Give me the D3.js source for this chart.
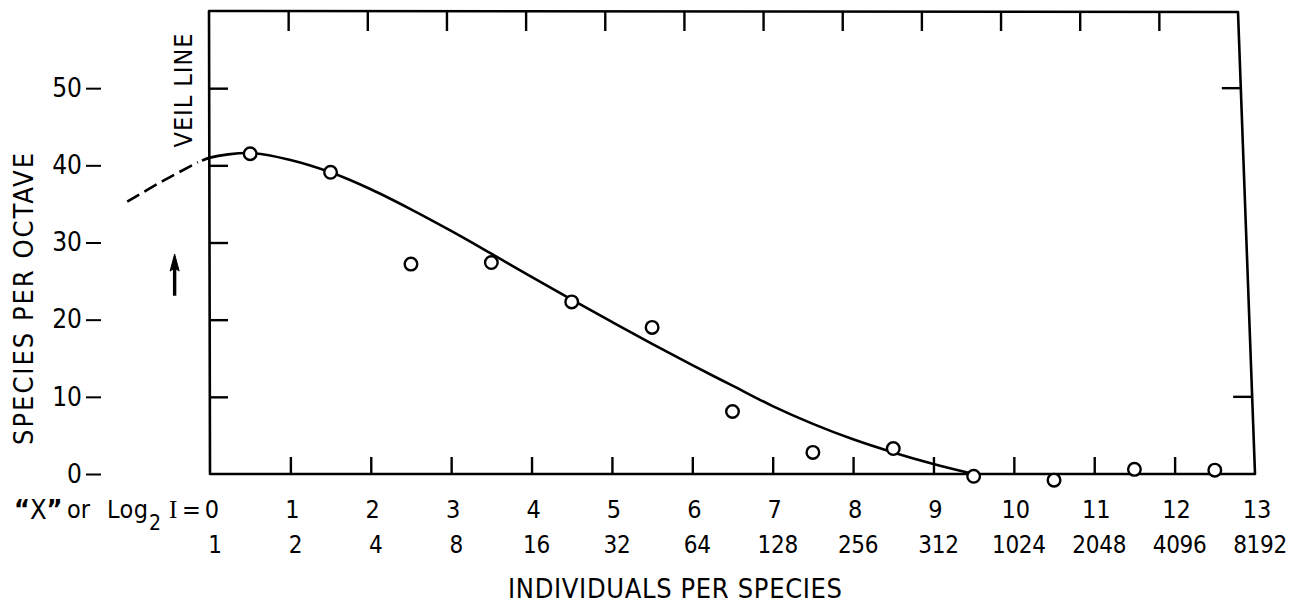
<!DOCTYPE html>
<html>
<head>
<meta charset="utf-8">
<script src="https://cdn.jsdelivr.net/npm/d3@7"></script>
<style>
  body { margin: 0; background: #fff; }
  svg text { font-family: "Liberation Sans Narrow", "DejaVu Sans Condensed", sans-serif; fill: #000; }
</style>
</head>
<body>
<div id="chart"></div>
<script>
// data
const octaves = [0.5, 1.5, 2.5, 3.5, 4.5, 5.5, 6.5, 7.5, 8.5, 9.5, 10.5, 11.5, 12.5];
const speciesObserved = [41.5, 39.1, 27.2, 27.4, 22.3, 19.0, 8.1, 2.8, 3.3, -0.3, -0.8, 0.6, 0.5];

const curveX = [-0.1, 0, 0.5, 1, 1.5, 2, 2.5, 3, 3.5, 4, 4.5, 5, 5.5, 6, 6.5, 7, 7.5, 8, 8.5, 9, 9.5];
const curveY = [40.6, 41.0, 41.6, 40.7, 39.1, 36.9, 34.3, 31.5, 28.55, 25.55, 22.6, 19.7, 16.85, 14.1, 11.45, 8.8, 6.5, 4.5, 2.8, 1.3, 0.0];

const veilX = [-1.03, -0.6, -0.15];
const veilY = [35.3, 37.9, 40.4];

const yTicks = [0, 10, 20, 30, 40, 50];
const xTicks = [1, 2, 3, 4, 5, 6, 7, 8, 9, 10, 11, 12];
const rightTicks = [10, 50];
const log2Labels = ["0", "1", "2", "3", "4", "5", "6", "7", "8", "9", "10", "11", "12", "13"];
const individualLabels = ["1", "2", "4", "8", "16", "32", "64", "128", "256", "312", "1024", "2048", "4096", "8192"];

const width = 1301;
const height = 606;

const svg = d3.select("#chart").append("svg")
  .attr("width", width)
  .attr("height", height);

// the scan is a bit skewed: the top edge is shorter than the bottom one
const x = d3.scaleLinear().domain([0, 13]).range([210, 1255]);
const xTop = d3.scaleLinear().domain([0, 13]).range([209, 1238]);
const y = d3.scaleLinear().domain([0, 60]).range([474, 11]);

// frame
const frame = d3.path();
frame.moveTo(x(0), y(0));
frame.lineTo(xTop(0), y(60));
frame.lineTo(xTop(13), y(60) + 1);
frame.lineTo(x(13), y(0));
frame.closePath();
svg.append("path")
  .attr("d", frame.toString())
  .attr("fill", "none")
  .attr("stroke", "#000")
  .attr("stroke-width", 2.6)
  .attr("stroke-linejoin", "round");

// inner ticks
function cleanAxis(g) {
  g.select(".domain").remove();
  g.selectAll(".tick line").attr("stroke", "#000").attr("stroke-width", 2.4);
  g.selectAll(".tick text").remove();
}

svg.append("g")
  .attr("transform", `translate(0,${y(0)})`)
  .call(d3.axisTop(x).tickValues(xTicks).tickSize(17))
  .call(cleanAxis);

svg.append("g")
  .attr("transform", `translate(0,${y(60)})`)
  .call(d3.axisBottom(xTop).tickValues(xTicks).tickSize(20))
  .call(cleanAxis);

svg.append("g")
  .attr("transform", `translate(${x(0)},0)`)
  .call(d3.axisRight(y).tickValues(yTicks.filter(d => d > 0)).tickSize(18))
  .call(cleanAxis);

// right edge ticks follow the slanted edge
const rightEdge = v => xTop(13) + (x(13) - xTop(13)) * (y(60) - y(v)) / (y(60) - y(0));
svg.append("g").selectAll("line")
  .data(rightTicks)
  .join("line")
  .attr("x1", d => rightEdge(d))
  .attr("x2", d => rightEdge(d) - 19)
  .attr("y1", d => y(d))
  .attr("y2", d => y(d))
  .attr("stroke", "#000")
  .attr("stroke-width", 2.4);

// left labels with their little dashes
const yAxis = svg.append("g")
  .attr("transform", "translate(101,0)")
  .call(d3.axisLeft(y).tickValues(yTicks).tickSize(15).tickPadding(4));
yAxis.select(".domain").remove();
yAxis.selectAll(".tick line").attr("stroke", "#000").attr("stroke-width", 2);
yAxis.selectAll(".tick text")
  .attr("font-size", 26)
  .attr("font-family", "Liberation Sans Narrow, DejaVu Sans Condensed, sans-serif");

// bottom label rows
svg.append("g").selectAll("text")
  .data(log2Labels)
  .join("text")
  .attr("x", (d, i) => x(i) + 2)
  .attr("y", 518)
  .attr("text-anchor", "middle")
  .attr("font-size", 25)
  .text(d => d);

svg.append("g").selectAll("text")
  .data(individualLabels)
  .join("text")
  .attr("x", (d, i) => x(i) + 5)
  .attr("y", 553)
  .attr("text-anchor", "middle")
  .attr("font-size", 24)
  .attr("letter-spacing", -0.3)
  .text(d => d);

// "X" or Log2 I=
const xq = svg.append("text")
  .attr("x", 14).attr("y", 519)
  .attr("font-size", 27);
xq.append("tspan").attr("font-weight", "bold").text("\u201C");
xq.append("tspan").text("X");
xq.append("tspan").attr("font-weight", "bold").text("\u201D");
svg.append("text")
  .attr("x", 67).attr("y", 518)
  .attr("font-size", 25)
  .text("or");
svg.append("text")
  .attr("x", 107).attr("y", 518)
  .attr("font-size", 25)
  .attr("textLength", 41)
  .text("Log");
svg.append("text")
  .attr("x", 149).attr("y", 530)
  .attr("font-size", 21)
  .text("2");
svg.append("text")
  .attr("x", 169).attr("y", 518)
  .attr("font-size", 25)
  .style("font-family", "Liberation Serif, serif")
  .text("I");
svg.append("text")
  .attr("x", 182).attr("y", 518)
  .attr("font-size", 25)
  .text("=");

// axis titles
svg.append("text")
  .attr("x", 675).attr("y", 598)
  .attr("text-anchor", "middle")
  .attr("font-size", 27)
  .attr("textLength", 334)
  .text("INDIVIDUALS PER SPECIES");

svg.append("text")
  .attr("transform", "translate(33,299) rotate(-90)")
  .attr("text-anchor", "middle")
  .attr("font-size", 27)
  .attr("textLength", 292)
  .text("SPECIES PER OCTAVE");

// veil line note and arrow
svg.append("text")
  .attr("transform", `translate(${x(-0.22)},${y(49.7)}) rotate(-90)`)
  .attr("text-anchor", "middle")
  .attr("font-size", 25)
  .attr("textLength", 114)
  .text("VEIL LINE");

const arrowX = x(-0.44);
svg.append("line")
  .attr("x1", arrowX).attr("x2", arrowX)
  .attr("y1", y(27)).attr("y2", y(23.1))
  .attr("stroke", "#000")
  .attr("stroke-width", 3.4);
svg.append("path")
  .attr("d", `M${arrowX},${y(28.5)} L${arrowX + 4.5},${y(26.3)} L${arrowX},${y(26.7)} L${arrowX - 4.5},${y(26.3)} Z`)
  .attr("fill", "#000")
  .attr("stroke", "#000")
  .attr("stroke-width", 1);

// fitted curve
const line = d3.line()
  .x(d => x(d[0]))
  .y(d => y(d[1]))
  .curve(d3.curveCatmullRom.alpha(0.5));

svg.append("path")
  .datum(d3.zip(curveX, curveY))
  .attr("d", line)
  .attr("fill", "none")
  .attr("stroke", "#000")
  .attr("stroke-width", 2.6);

svg.append("path")
  .datum(d3.zip(veilX, veilY))
  .attr("d", line)
  .attr("fill", "none")
  .attr("stroke", "#000")
  .attr("stroke-width", 2.6)
  .attr("stroke-dasharray", "14,6");

// observed points
svg.append("g").selectAll("circle")
  .data(d3.zip(octaves, speciesObserved))
  .join("circle")
  .attr("cx", d => x(d[0]))
  .attr("cy", d => y(d[1]))
  .attr("r", 6.3)
  .attr("fill", "#fff")
  .attr("stroke", "#000")
  .attr("stroke-width", 2.4);
</script>
</body>
</html>
